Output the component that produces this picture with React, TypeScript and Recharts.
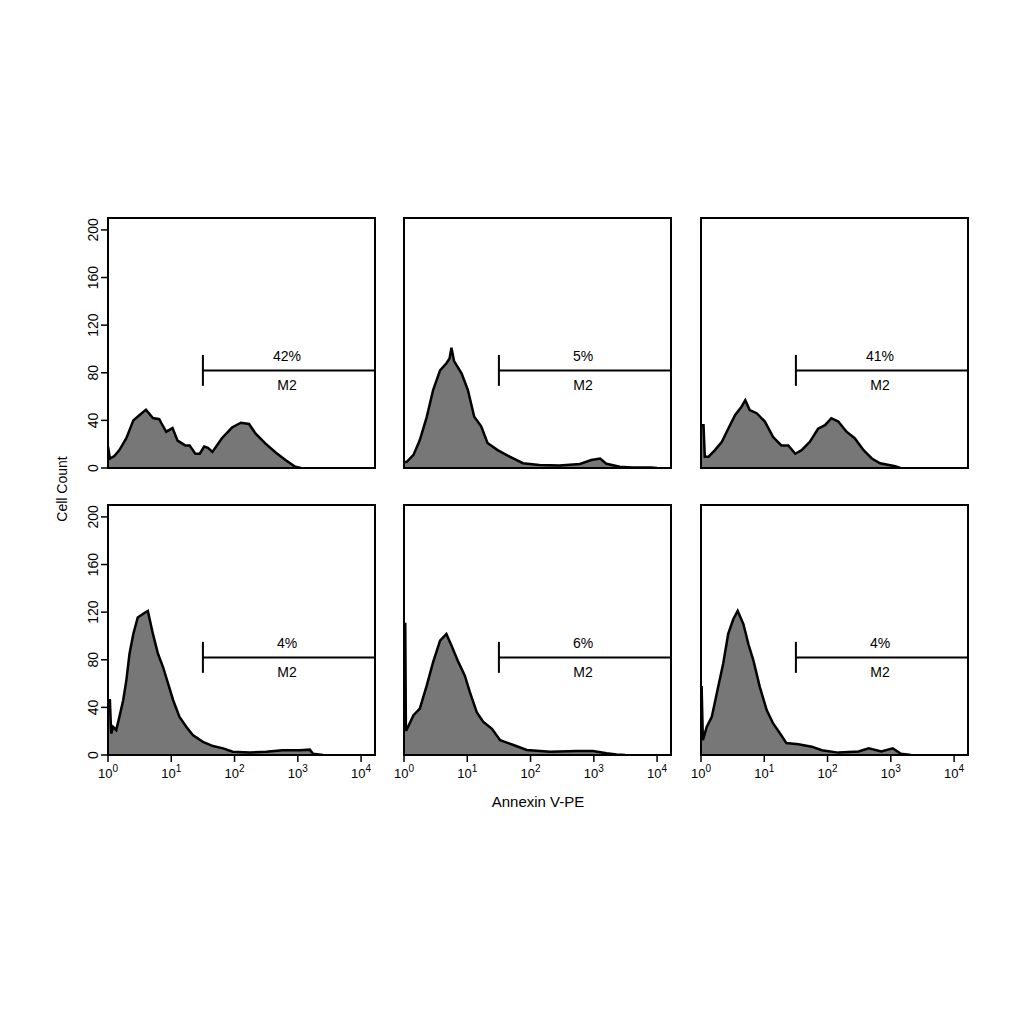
import React from 'react';
import {
  AreaChart,
  Area,
  XAxis,
  YAxis,
  ReferenceArea,
  ReferenceLine,
  ReferenceDot,
} from 'recharts';

const FONT = '"Liberation Sans", Arial, sans-serif';

// x axis is log10 of Annexin V-PE intensity (decades), y is cell count
const decadeTicks = [0, 1, 2, 3, 4];
const countTicks = [0, 40, 80, 120, 160, 200];
const xMax = 4.22;
const yMax = 210;

const markerName = 'M2';
const markerStart = 1.5;
const markerLevel = 82;
const percents = ['42%', '5%', '41%', '4%', '6%', '4%'];

// top row
const aLog = [0, 0.03, 0.1, 0.18, 0.29, 0.4, 0.5, 0.6, 0.71, 0.81, 0.84, 0.92, 1.02, 1.1, 1.22, 1.29, 1.38, 1.45, 1.52, 1.58, 1.65, 1.8, 1.96, 2.1, 2.23, 2.33, 2.49, 2.65, 2.81, 2.96, 3.05];
const aCount = [18, 8, 10, 15, 25, 40, 44.5, 49, 42, 41, 38, 30.5, 33.5, 23, 19, 19, 12, 12, 18, 17, 13.5, 25, 34, 38, 37, 29, 20.5, 13, 6.5, 1, 0];

const bLog = [0, 0.04, 0.15, 0.25, 0.36, 0.46, 0.57, 0.67, 0.72, 0.75, 0.79, 0.83, 0.91, 1.01, 1.11, 1.22, 1.32, 1.48, 1.67, 1.88, 2.14, 2.46, 2.78, 2.96, 3.1, 3.2, 3.41, 3.6, 3.9, 4.0];
const bCount = [5, 5, 11, 23.5, 43, 65.5, 82, 88, 92, 101, 90, 86.5, 79.6, 65.5, 43, 35, 21, 15, 9.5, 4, 2.5, 2, 3.4, 6.7, 8, 3.5, 1, 0.5, 0.5, 0];

const cLog = [0, 0.04, 0.06, 0.12, 0.22, 0.33, 0.43, 0.54, 0.64, 0.7, 0.77, 0.88, 1.01, 1.14, 1.27, 1.38, 1.49, 1.59, 1.72, 1.85, 1.96, 2.06, 2.17, 2.3, 2.43, 2.57, 2.7, 2.83, 3.07, 3.15];
const cCount = [36, 36, 9.5, 9.5, 15, 22, 33, 44.5, 51.5, 57, 48.7, 46, 39, 26, 19, 19, 12, 15, 22, 33, 36, 41.8, 39, 30.5, 25, 15, 8, 4, 1.5, 0];

// bottom row
const dLog = [0, 0.03, 0.05, 0.08, 0.13, 0.18, 0.24, 0.29, 0.34, 0.4, 0.47, 0.55, 0.63, 0.71, 0.79, 0.87, 0.95, 1.03, 1.13, 1.24, 1.34, 1.5, 1.66, 1.82, 1.97, 2.24, 2.5, 2.76, 3.03, 3.19, 3.24, 3.4];
const dCount = [46, 46, 18, 23.6, 21, 32, 46, 62.7, 85, 101.7, 115.5, 118.4, 121, 101.7, 85, 73.8, 60, 46, 32, 23.6, 16.7, 11, 7.5, 5.6, 2.8, 2, 2.8, 4, 4, 4.5, 1, 0];

const eLog = [0, 0.02, 0.03, 0.04, 0.15, 0.25, 0.36, 0.46, 0.57, 0.67, 0.75, 0.86, 0.96, 1.04, 1.15, 1.25, 1.39, 1.52, 1.73, 1.94, 2.31, 2.73, 2.99, 3.2, 3.36, 3.5];
const eCount = [110, 110, 21, 21, 33.4, 39, 58.5, 78, 96, 101.7, 92, 78, 66.8, 53, 36, 28, 22, 12.5, 8.4, 4.2, 2.8, 3.4, 3.4, 1.4, 0.5, 0];

const fLog = [0, 0.01, 0.03, 0.09, 0.17, 0.27, 0.35, 0.43, 0.51, 0.58, 0.67, 0.75, 0.83, 0.93, 1.04, 1.14, 1.25, 1.35, 1.54, 1.75, 1.91, 2.17, 2.49, 2.65, 2.85, 3.03, 3.16, 3.32];
const fCount = [57, 57, 12.5, 23.6, 32, 57, 76.6, 101.7, 114, 121, 110, 93, 79, 57, 37.6, 26.5, 18, 10, 9, 7, 4, 2, 3, 5.6, 3, 5.6, 1, 0];

const panels = [
  { log: aLog, count: aCount },
  { log: bLog, count: bCount },
  { log: cLog, count: cCount },
  { log: dLog, count: dCount },
  { log: eLog, count: eCount },
  { log: fLog, count: fCount },
];

const colLeft = [108, 404, 701];
const rowTop = [218, 505];

function DecadeTick(props: any) {
  const { x, y, payload } = props;
  return (
    <text x={x} y={y + 14} textAnchor='middle' fontSize={13} fontFamily={FONT} fill='#000'>
      <tspan>10</tspan>
      <tspan dy={-6} fontSize={10}>
        {payload.value}
      </tspan>
    </text>
  );
}

function CountTick(props: any) {
  const { x, y, payload } = props;
  const tx = x - 1;
  return (
    <text
      x={tx}
      y={y}
      transform={`rotate(-90 ${tx} ${y})`}
      textAnchor='middle'
      fontSize={14}
      fontFamily={FONT}
      fill='#000'
    >
      {payload.value}
    </text>
  );
}

function Panel({ log, count, pct, left, top, showX, showY }: any) {
  const data = log.map((x: number, i: number) => ({ x, y: count[i] }));
  return (
    <div style={{ position: 'absolute', left: left - 50, top: top - 10 }}>
      <AreaChart
        width={327}
        height={310}
        data={data}
        margin={{ top: 10, right: 10, bottom: 10, left: 10 }}
      >
        <XAxis
          dataKey='x'
          type='number'
          domain={[0, xMax]}
          ticks={decadeTicks}
          allowDataOverflow
          height={40}
          axisLine={false}
          tickSize={7}
          tickLine={showX ? { stroke: '#000', strokeWidth: 1.5 } : false}
          tick={showX ? <DecadeTick /> : false}
        />
        <YAxis
          type='number'
          domain={[0, yMax]}
          ticks={countTicks}
          allowDataOverflow
          width={40}
          axisLine={false}
          tickSize={7}
          tickLine={showY ? { stroke: '#000', strokeWidth: 1.5 } : false}
          tick={showY ? <CountTick /> : false}
        />
        <Area
          type='linear'
          dataKey='y'
          stroke='#000'
          strokeWidth={2.5}
          fill='#777777'
          fillOpacity={1}
          isAnimationActive={false}
        />
        <ReferenceArea
          x1={0}
          x2={xMax}
          y1={0}
          y2={yMax}
          fill='none'
          stroke='#000'
          strokeWidth={2}
        />
        <ReferenceLine
          segment={[
            { x: markerStart, y: markerLevel },
            { x: xMax, y: markerLevel },
          ]}
          stroke='#000'
          strokeWidth={2}
        />
        <ReferenceLine
          segment={[
            { x: markerStart, y: 69 },
            { x: markerStart, y: 95 },
          ]}
          stroke='#000'
          strokeWidth={2}
        />
        <ReferenceDot
          x={2.83}
          y={94}
          r={0}
          shape={(p: any) => (
            <text x={p.cx} y={p.cy} dy={5} textAnchor='middle' fontSize={14} fontFamily={FONT} fill='#000'>
              {pct}
            </text>
          )}
        />
        <ReferenceDot
          x={2.83}
          y={70}
          r={0}
          shape={(p: any) => (
            <text x={p.cx} y={p.cy} dy={5} textAnchor='middle' fontSize={14} fontFamily={FONT} fill='#000'>
              {markerName}
            </text>
          )}
        />
      </AreaChart>
    </div>
  );
}

export default function App() {
  return (
    <div
      style={{
        position: 'absolute',
        left: 0,
        top: 0,
        width: 1024,
        height: 1024,
        background: '#fff',
        fontFamily: FONT,
      }}
    >
      {panels.map((p, i) => {
        const row = Math.floor(i / 3);
        const col = i % 3;
        return (
          <Panel
            key={i}
            log={p.log}
            count={p.count}
            pct={percents[i]}
            left={colLeft[col]}
            top={rowTop[row]}
            showX={row === 1}
            showY={col === 0}
          />
        );
      })}
      <svg
        width={1024}
        height={1024}
        style={{ position: 'absolute', left: 0, top: 0, pointerEvents: 'none' }}
      >
        <text
          x={62}
          y={489}
          transform='rotate(-90 62 489)'
          textAnchor='middle'
          dominantBaseline='central'
          fontSize={14}
          fontFamily={FONT}
        >
          Cell Count
        </text>
        <text
          x={538}
          y={801}
          textAnchor='middle'
          dominantBaseline='central'
          fontSize={15}
          fontFamily={FONT}
        >
          Annexin V-PE
        </text>
      </svg>
    </div>
  );
}
